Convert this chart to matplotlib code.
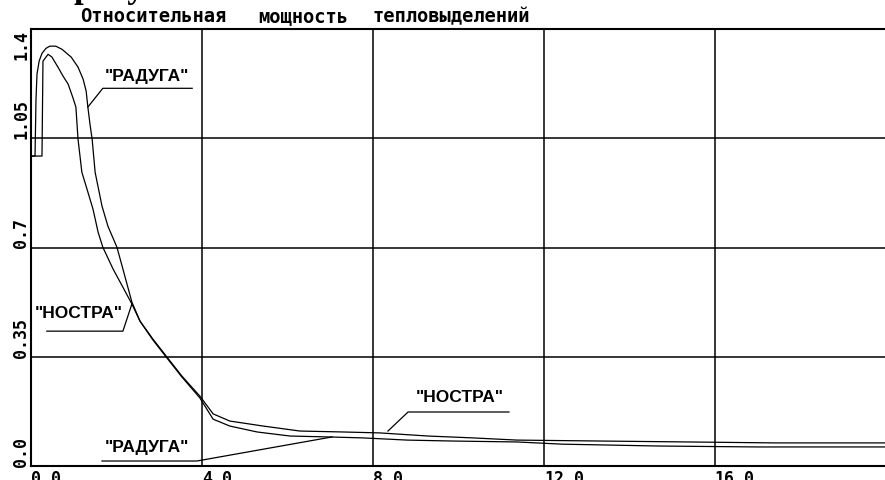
import matplotlib.pyplot as plt

# "НОСТРА" curve (inner at the peak, upper in the tail)
nostra_t = [0.0, 0.257, 0.28, 0.40, 0.49, 0.63, 0.75, 0.87, 0.98, 1.05, 1.10, 1.19,
            1.31, 1.45, 1.57, 1.68, 1.92, 2.20, 2.36, 2.55, 2.85, 3.18, 3.53, 3.95,
            4.26, 4.65, 5.43, 6.29, 7.30, 8.16, 9.29, 10.34, 11.37, 13.31, 15.37,
            17.40, 20.0]
nostra_q = [0.993, 0.993, 1.297, 1.319, 1.31, 1.278, 1.249, 1.223, 1.18, 1.15, 1.047,
            0.941, 0.887, 0.823, 0.749, 0.701, 0.631, 0.560, 0.519, 0.464, 0.407,
            0.349, 0.288, 0.224, 0.167, 0.144, 0.128, 0.112, 0.109, 0.106, 0.096,
            0.090, 0.083, 0.080, 0.077, 0.074, 0.074]

# "РАДУГА" curve (outer at the peak, lower in the tail)
raduga_t = [0.0, 0.094, 0.117, 0.14, 0.19, 0.257, 0.35, 0.44, 0.58, 0.725, 0.94,
            1.10, 1.22, 1.29, 1.33, 1.38, 1.43, 1.50, 1.66, 1.80, 2.01, 2.15, 2.36,
            2.50, 2.55, 2.85, 3.18, 3.53, 3.95, 4.26, 4.65, 5.29, 6.06, 6.99, 7.77,
            8.80, 9.85, 11.37, 12.42, 14.67, 17.0, 20.0]
raduga_q = [0.993, 0.993, 1.175, 1.255, 1.297, 1.322, 1.338, 1.345, 1.345, 1.335,
            1.31, 1.278, 1.239, 1.201, 1.15, 1.095, 1.047, 0.941, 0.833, 0.768,
            0.701, 0.631, 0.525, 0.48, 0.464, 0.404, 0.346, 0.285, 0.218, 0.150,
            0.128, 0.109, 0.096, 0.093, 0.090, 0.083, 0.080, 0.077, 0.070, 0.064,
            0.061, 0.061]

x_ticks = [0.0, 4.0, 8.0, 12.0, 16.0]
x_labels = ["0.0", "4.0", "8.0", "12.0", "16.0"]
y_ticks = [0.0, 0.35, 0.7, 1.05, 1.4]
y_labels = ["0.0", "0.35", "0.7", "1.05", "1.4"]

title = ["Относительная", "мощность", "тепловыделений"]

W, H = 885, 481
fig = plt.figure(figsize=(W / 100, H / 100), dpi=100)
ax = fig.add_axes([31 / W, 14 / H, 855 / W, 437 / H])
ax.set_xlim(0, 20)
ax.set_ylim(0, 1.4)

for v in [4, 8, 12, 16]:
    ax.axvline(v, color="black", lw=1.1, zorder=1)
for v in [0.35, 0.7, 1.05]:
    ax.axhline(v, color="black", lw=1.1, zorder=1)

ax.plot(nostra_t, nostra_q, color="black", lw=0.9, zorder=3)
ax.plot(raduga_t, raduga_q, color="black", lw=0.9, zorder=3)

for s in ["left", "top", "bottom"]:
    ax.spines[s].set_linewidth(1.5)
ax.spines["right"].set_visible(False)

mono = dict(family="DejaVu Sans Mono", weight="bold", size=12)
ax.set_xticks(x_ticks)
ax.set_xticklabels(x_labels, ha="left", **mono)
ax.set_yticks(y_ticks)
ax.set_yticklabels(y_labels, rotation=90, ha="center", va="bottom", **mono)
ax.get_yticklabels()[-1].set_va("top")
ax.tick_params(length=0)
ax.tick_params(axis="y", pad=7)
ax.tick_params(axis="x", pad=2)

# curve labels with leaders
lab = dict(family="Liberation Sans", weight="bold", size=12.5,
           va="center", ha="left")
notes = [
    ('"РАДУГА"', 1.73, 1.252, (3.77, 1.68, 1.33), (1.210, 1.210, 1.150)),
    ('"НОСТРА"', 0.094, 0.493, (0.37, 2.15, 2.36), (0.432, 0.432, 0.519)),
    ('"РАДУГА"', 1.73, 0.061, (1.66, 3.88, 7.04), (0.016, 0.016, 0.093)),
    ('"НОСТРА"', 9.0, 0.224, (11.18, 8.82, 8.35), (0.173, 0.173, 0.112)),
]
for txt, tx, ty, lx, ly in notes:
    ax.text(tx, ty, txt, zorder=4, **lab)
    ax.plot(lx, ly, color="black", lw=0.9, zorder=4)

# title, word by word to keep the wide spacing of the original
for word, px in zip(title, [80, 258, 373]):
    fig.text(px / W, 1 - 22 / H, word, family="DejaVu Sans Mono", weight="bold",
             size=13.5, va="baseline", ha="left")

# heading above the chart, only its descenders fall inside the picture
fig.text(74 / W, 1 + 3 / H, "рисунок", family="Liberation Serif", weight="bold",
         size=25, va="baseline", ha="left")

fig.savefig("out.png", dpi=100)
